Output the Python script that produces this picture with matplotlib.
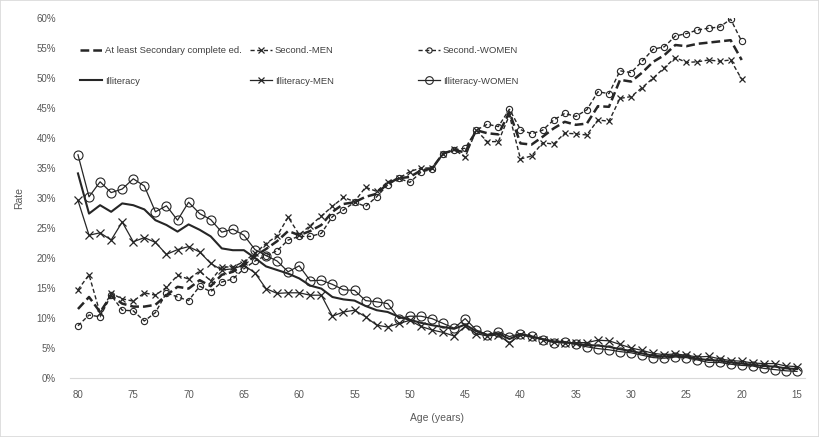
import matplotlib
matplotlib.use("Agg")
import matplotlib.pyplot as plt
from matplotlib.ticker import PercentFormatter
from matplotlib.patches import Rectangle

plt.rcParams['font.family'] = ['Liberation Sans', 'DejaVu Sans']

# edades (años), de 80 a 15
ages_illit = list(range(80, 14, -1))
ages_sec = list(range(80, 19, -1))

# tasas en %
illit_total = [34.1, 27.4, 28.8, 27.7, 29.1, 28.8, 28.1, 26.3, 25.5, 24.4,
               25.6, 24.7, 23.6, 21.6, 21.3, 21.3, 20.0, 18.6, 18.0, 17.4,
               16.6, 15.4, 14.9, 13.5, 13.1, 12.9, 12.0, 11.3, 11.0, 10.2,
               9.7, 9.2, 8.8, 8.5, 8.2, 8.9, 7.8, 7.2, 7.4, 6.5,
               7.3, 6.9, 6.5, 6.1, 6.0, 5.7, 5.5, 5.4, 5.2, 4.8,
               4.5, 4.1, 3.7, 3.6, 3.7, 3.6, 3.2, 3.0, 2.9, 2.6,
               2.4, 2.2, 2.0, 1.9, 1.6, 1.5]
illit_men = [29.6, 23.8, 24.2, 23.0, 26.0, 22.7, 23.4, 22.6, 20.6, 21.4,
             21.9, 21.0, 19.1, 18.0, 18.2, 18.8, 17.5, 14.9, 14.1, 14.2,
             14.2, 13.8, 13.8, 10.3, 11.0, 11.3, 10.2, 8.8, 8.5, 9.1,
             9.6, 8.6, 8.0, 7.6, 7.0, 8.6, 7.4, 7.0, 7.2, 5.8,
             7.2, 6.8, 6.4, 6.0, 5.8, 5.9, 5.9, 6.3, 6.2, 5.6,
             5.0, 4.6, 4.1, 3.9, 4.0, 3.8, 3.5, 3.6, 3.2, 2.9,
             2.8, 2.5, 2.4, 2.4, 2.0, 1.9]
illit_women = [37.2, 30.2, 32.7, 30.9, 31.5, 33.2, 32.0, 27.7, 28.7, 26.3,
               29.3, 27.4, 26.4, 24.3, 24.8, 23.8, 21.4, 20.4, 19.5, 17.7,
               18.7, 16.2, 16.3, 15.6, 14.7, 14.6, 12.9, 12.7, 12.4, 9.9,
               10.3, 10.3, 9.9, 9.1, 8.3, 9.9, 8.0, 7.2, 7.7, 6.9,
               7.4, 7.0, 6.4, 5.9, 6.0, 5.6, 5.2, 4.9, 4.7, 4.4,
               4.2, 3.8, 3.4, 3.3, 3.5, 3.4, 3.0, 2.6, 2.6, 2.3,
               2.1, 2.0, 1.6, 1.4, 1.2, 1.1]

sec_total = [11.5, 13.5, 11.0, 13.7, 12.4, 11.9, 11.9, 12.2, 13.8, 15.2,
             14.9, 16.3, 15.3, 17.2, 17.7, 19.0, 20.3, 21.5, 22.8, 24.5,
             23.8, 24.5, 25.5, 27.7, 29.0, 29.3, 30.2, 30.7, 32.4, 33.3,
             33.5, 34.6, 34.9, 37.4, 38.0, 37.6, 41.3, 40.8, 40.6, 44.3,
             39.1, 38.9, 40.2, 41.6, 42.7, 42.2, 42.4, 45.3, 45.2, 49.7,
             49.4, 50.9, 52.7, 53.8, 55.5, 55.3, 55.7, 55.9, 56.1, 56.3,
             53.0]
sec_men = [14.7, 17.2, 10.8, 14.1, 13.2, 12.8, 14.2, 13.8, 15.1, 17.1,
           16.5, 17.8, 16.2, 18.5, 18.5, 19.4, 20.8, 22.4, 23.7, 26.8,
           23.9, 25.4, 27.0, 28.6, 30.1, 29.4, 31.8, 31.1, 32.7, 33.3,
           34.4, 35.0, 35.0, 37.4, 38.1, 36.8, 41.3, 39.4, 39.4, 43.8,
           36.5, 37.0, 39.2, 39.0, 40.8, 40.7, 40.5, 43.0, 42.8, 46.6,
           46.9, 48.4, 50.0, 51.7, 53.4, 52.6, 52.7, 53.0, 52.8, 53.0,
           49.8]
sec_women = [8.7, 10.5, 10.2, 13.8, 11.3, 11.2, 9.5, 10.9, 14.2, 13.5,
             12.9, 15.3, 14.4, 16.0, 16.5, 18.2, 19.5, 20.4, 21.2, 23.0,
             23.6, 23.6, 24.1, 26.9, 28.0, 29.3, 28.6, 30.2, 32.2, 33.3,
             32.6, 34.3, 34.8, 37.4, 38.0, 38.3, 41.3, 42.3, 41.9, 44.8,
             41.4, 40.7, 41.3, 43.0, 44.1, 43.6, 44.7, 47.7, 47.4, 51.2,
             50.9, 52.8, 54.8, 55.2, 57.0, 57.4, 58.0, 58.3, 58.5, 59.8,
             56.1]

ink = '#262626'

fig = plt.figure(figsize=(8.19, 4.37), dpi=100)
ax = fig.add_axes([70 / 819, 59 / 437, 735 / 819, 360 / 437])

l_sec, = ax.plot(ages_sec, sec_total, color=ink, lw=1.8, ls=(0, (3.5, 1.6)))
l_sec_m, = ax.plot(ages_sec, sec_men, color=ink, lw=1.0, ls=(0, (3, 1.8)),
                   marker='x', ms=4.5, mew=0.9)
l_sec_w, = ax.plot(ages_sec, sec_women, color=ink, lw=1.0, ls=(0, (3, 1.8)),
                   marker='o', ms=4.5, mfc='none', mew=0.8)
l_il, = ax.plot(ages_illit, illit_total, color=ink, lw=1.5)
l_il_m, = ax.plot(ages_illit, illit_men, color=ink, lw=0.9,
                  marker='x', ms=5.5, mew=0.9)
l_il_w, = ax.plot(ages_illit, illit_women, color=ink, lw=0.9,
                  marker='o', ms=6.5, mfc='none', mew=0.8)

ax.set_xlim(80.72, 14.28)
ax.set_ylim(0, 60)
ax.set_xticks(range(80, 14, -5))
ax.set_yticks(range(0, 61, 5))
ax.yaxis.set_major_formatter(PercentFormatter(decimals=0))
ax.tick_params(axis='both', length=0, labelsize=7, colors='#595959')
ax.tick_params(axis='x', pad=9)
ax.tick_params(axis='y', pad=10)

for side in ['top', 'right', 'left']:
    ax.spines[side].set_visible(False)
ax.spines['bottom'].set_color('#d9d9d9')

ax.set_xlabel('Age (years)', fontsize=7.5, color='#595959', labelpad=9)
ax.set_ylabel('Rate', fontsize=7.5, color='#595959', labelpad=9)

# leyenda en tres columnas
cols = [([l_sec, l_il], ['At least Secondary complete ed.', 'Illiteracy'], 80),
        ([l_sec_m, l_il_m], ['Second.-MEN', 'Illiteracy-MEN'], 250),
        ([l_sec_w, l_il_w], ['Second.-WOMEN', 'Illiteracy-WOMEN'], 418)]
for handles, labels, xpix in cols:
    leg = fig.legend(handles, labels, loc='upper left',
                     bbox_to_anchor=(xpix / 819, 1 - 46 / 437),
                     frameon=False, fontsize=6.8, handlelength=2.3,
                     handletextpad=0.35, labelspacing=2.3, borderpad=0,
                     borderaxespad=0, markerscale=0.85)
    for t in leg.get_texts():
        t.set_color('#404040')

fig.patches.append(Rectangle((0, 0), 1, 1, transform=fig.transFigure,
                             fill=False, edgecolor='#d9d9d9', lw=1.2))

fig.savefig('out.png', dpi=100)
